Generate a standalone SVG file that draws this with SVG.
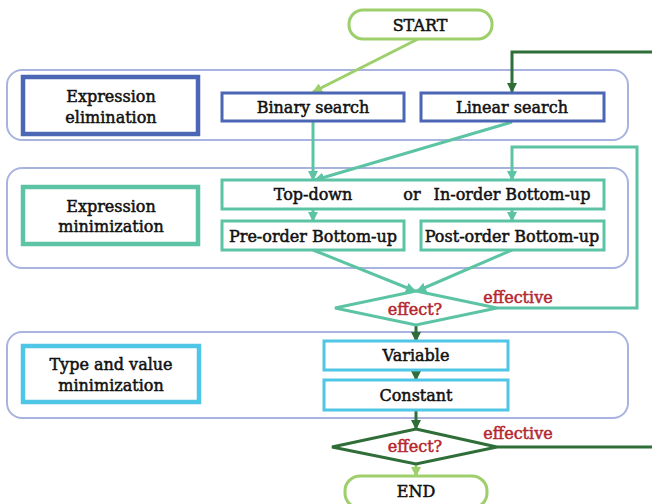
<svg xmlns="http://www.w3.org/2000/svg" width="652" height="504" viewBox="0 0 652 504">
<defs>
<style>
text{font-family:"DejaVu Serif","Liberation Serif",serif;font-size:16px;fill:#111;stroke:#111;stroke-width:0.5;text-anchor:middle}
text.red{fill:#b5262f;stroke:#b5262f}
.grp{fill:none;stroke:#a9b3df;stroke-width:2}
.blue{fill:#fff;stroke:#4a66b4;stroke-width:3}
.blueB{fill:#fff;stroke:#4a66b4;stroke-width:4.5}
.teal{fill:#fff;stroke:#5cc4a4;stroke-width:3}
.tealB{fill:#fff;stroke:#5cc4a4;stroke-width:4.5}
.sky{fill:#fff;stroke:#4fc6e6;stroke-width:3}
.skyB{fill:#fff;stroke:#4fc6e6;stroke-width:4.5}
.term{fill:#fff;stroke:#9dcf6a;stroke-width:3}
.c{fill:none;stroke-width:3}
.cT{stroke:#5cc4a4}
.cD{stroke:#2f6e38}
.cL{stroke:#9dcf6a}
</style>
<marker id="aT" viewBox="0 0 10 10" refX="9" refY="5" markerWidth="10" markerHeight="10" markerUnits="userSpaceOnUse" orient="auto"><path d="M0,0L10,5L0,10z" fill="#5cc4a4"/></marker>
<marker id="aD" viewBox="0 0 10 10" refX="9" refY="5" markerWidth="10" markerHeight="10" markerUnits="userSpaceOnUse" orient="auto"><path d="M0,0L10,5L0,10z" fill="#2f6e38"/></marker>
<marker id="aL" viewBox="0 0 10 10" refX="9" refY="5" markerWidth="10" markerHeight="10" markerUnits="userSpaceOnUse" orient="auto"><path d="M0,0L10,5L0,10z" fill="#9dcf6a"/></marker>
</defs>
<rect width="652" height="504" fill="#fff"/>

<g id="groups">
<rect class="grp" x="7" y="70" width="621" height="70" rx="15"/>
<rect class="grp" x="7" y="168" width="621" height="100" rx="15"/>
<rect class="grp" x="7" y="332" width="621" height="86" rx="15"/>
</g>

<g id="connectors">
<line class="c cL" x1="418" y1="39" x2="313" y2="92" marker-end="url(#aL)"/>
<polyline class="c cD" points="652,52 512,52 512,92" marker-end="url(#aD)"/>
<line class="c cT" x1="313" y1="122" x2="313" y2="180" marker-end="url(#aT)"/>
<line class="c cT" x1="512" y1="122" x2="315" y2="180" marker-end="url(#aT)"/>
<line class="c cT" x1="313" y1="209" x2="313" y2="221" marker-end="url(#aT)"/>
<line class="c cT" x1="512" y1="209" x2="512" y2="221" marker-end="url(#aT)"/>
<line class="c cT" x1="313" y1="250" x2="415" y2="291" marker-end="url(#aT)"/>
<line class="c cT" x1="512" y1="250" x2="417" y2="291" marker-end="url(#aT)"/>
<polyline class="c cT" points="497,308 637,308 637,147 512,147 512,180" marker-end="url(#aT)"/>
<line class="c cD" x1="416" y1="325" x2="416" y2="341" marker-end="url(#aD)"/>
<line class="c cD" x1="416" y1="371" x2="416" y2="380" marker-end="url(#aD)"/>
<line class="c cD" x1="416" y1="410" x2="416" y2="429" marker-end="url(#aD)"/>
<line class="c cD" x1="497" y1="447" x2="652" y2="447"/>
<line class="c cL" x1="416" y1="464" x2="416" y2="476" marker-end="url(#aL)"/>
</g>

<g id="start"><rect class="term" x="349" y="10" width="143" height="29" rx="14"/><text x="420" y="31">START</text></g>

<g id="expr-elim"><rect class="blueB" x="23" y="77" width="175" height="57"/><text x="111" y="102">Expression</text><text x="111" y="123">elimination</text></g>
<g id="binary"><rect class="blue" x="222" y="93" width="182" height="28"/><text x="313" y="113">Binary search</text></g>
<g id="linear"><rect class="blue" x="421" y="93" width="183" height="28"/><text x="512" y="113">Linear search</text></g>

<g id="expr-min"><rect class="tealB" x="23" y="187" width="175" height="57"/><text x="111" y="212">Expression</text><text x="111" y="232">minimization</text></g>
<g id="topdown"><rect class="teal" x="222" y="180" width="382" height="29"/><text x="313" y="200">Top-down</text><text x="412" y="200">or</text><text x="512" y="200">In-order Bottom-up</text></g>
<g id="preorder"><rect class="teal" x="222" y="221" width="182" height="29"/><text x="313" y="242">Pre-order Bottom-up</text></g>
<g id="postorder"><rect class="teal" x="421" y="221" width="183" height="29"/><text x="512" y="242">Post-order Bottom-up</text></g>
<g id="effect1"><polygon points="416,291 497,308 416,325 335,308" fill="#fff" stroke="#5cc4a4" stroke-width="3"/><text class="red" x="415" y="315">effect?</text><text class="red" x="518" y="303">effective</text></g>

<g id="type-min"><rect class="skyB" x="23" y="346" width="176" height="56"/><text x="111" y="370">Type and value</text><text x="111" y="391">minimization</text></g>
<g id="variable"><rect class="sky" x="324" y="341" width="184" height="29"/><text x="416" y="361">Variable</text></g>
<g id="constant"><rect class="sky" x="324" y="380" width="184" height="30"/><text x="416" y="401">Constant</text></g>
<g id="effect2"><polygon points="416,429 497,447 416,464 332,447" fill="#fff" stroke="#2f6e38" stroke-width="3"/><text class="red" x="415" y="452">effect?</text><text class="red" x="518" y="439">effective</text></g>

<g id="end"><rect class="term" x="345" y="476" width="142" height="32" rx="15"/><text x="416" y="497">END</text></g>
</svg>
